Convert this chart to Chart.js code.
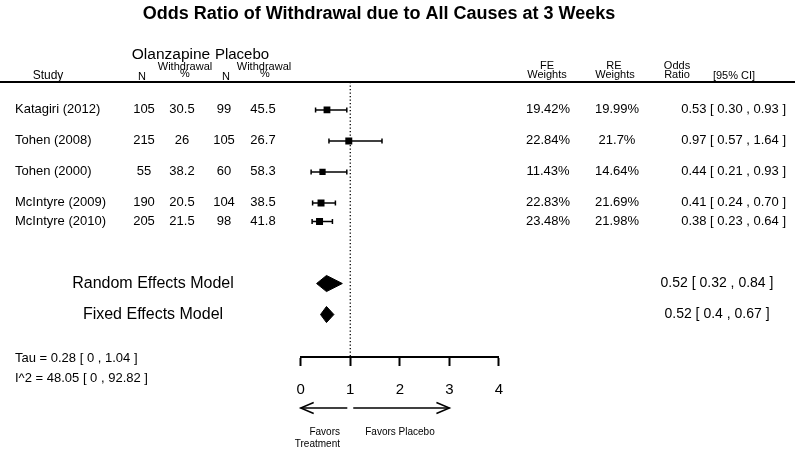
<!DOCTYPE html>
<html><head><meta charset="utf-8">
<script src="https://cdn.jsdelivr.net/npm/chart.js@4"></script>
<style>html,body{margin:0;padding:0;background:#fff;}canvas{display:block;}</style>
</head><body>
<canvas id="c" width="800" height="454"></canvas>
<script>
// ---- data ----
const studies = ['Katagiri (2012)','Tohen (2008)','Tohen (2000)','McIntyre (2009)','McIntyre (2010)'];
const olzN = [105,215,55,190,205];
const olzPct = ['30.5','26','38.2','20.5','21.5'];
const plcN = [99,105,60,104,98];
const plcPct = ['45.5','26.7','58.3','38.5','41.8'];
const feWeights = [19.42,22.84,11.43,22.83,23.48];
const reWeights = [19.99,21.7,14.64,21.69,21.98];
const orEst = [0.53,0.97,0.44,0.41,0.38];
const orLo = [0.30,0.57,0.21,0.24,0.23];
const orHi = [0.93,1.64,0.93,0.70,0.64];
const summaryLabels = ['Random Effects Model','Fixed Effects Model'];
const summaryEst = [0.52,0.52];
const summaryLo = [0.32,0.4];
const summaryHi = [0.84,0.67];
const xTicks = [0,1,2,3,4];
const tauText = 'Tau = 0.28 [ 0 , 1.04 ]';
const i2Text = 'I^2 = 48.05 [ 0 , 92.82 ]';
const titleText = 'Odds Ratio of Withdrawal due to All Causes at 3 Weeks';

// ---- layout (row slots in line units) ----
const rowSlot = [0.9,1.9,2.9,3.9,4.5];
const summarySlot = [6.5,7.5];
const yMax = 8.87;
const diamondHalf = 0.26;
const FONT = "'Liberation Sans', Arial, sans-serif";

const datasets = [];
// reference line at OR = 1
datasets.push({type:'line', data:[{x:1,y:0},{x:1,y:yMax}], borderColor:'#000', borderWidth:1.3,
  borderDash:[1.3,2.2], pointRadius:0, fill:false});
// confidence intervals
studies.forEach((s,i)=>{
  datasets.push({type:'line', data:[{x:orLo[i],y:rowSlot[i]},{x:orHi[i],y:rowSlot[i]}],
    borderColor:'#000', borderWidth:1.5, pointStyle:'line', rotation:90, pointRadius:2.5,
    pointBorderWidth:1.5, pointBorderColor:'#000', fill:false});
});
// study boxes
datasets.push({type:'scatter', data: studies.map((s,i)=>({x:orEst[i], y:rowSlot[i]})),
  pointStyle:'rect', pointRadius: reWeights.map(w => (4.8 + 0.1*w)/Math.SQRT2),
  backgroundColor:'#000', borderColor:'#000', borderWidth:0});
// summary diamonds
summaryLabels.forEach((s,i)=>{
  const r = summarySlot[i];
  datasets.push({type:'line', data:[
    {x:summaryLo[i],y:r},{x:summaryEst[i],y:r-diamondHalf},{x:summaryHi[i],y:r},
    {x:summaryEst[i],y:r+diamondHalf},{x:summaryLo[i],y:r}],
    borderColor:'#000', backgroundColor:'#000', borderWidth:1, pointRadius:0, fill:'shape', tension:0});
});

const textPlugin = {
  id:'forestText',
  afterDraw(chart){
    const ctx = chart.ctx, xs = chart.scales.x, ys = chart.scales.y;
    ctx.save();
    ctx.fillStyle = '#000'; ctx.strokeStyle = '#000';
    const txt = (t,x,y,size,align,bold)=>{
      ctx.font = (bold?'bold ':'') + size + 'px ' + FONT;
      ctx.textAlign = align; ctx.textBaseline = 'middle';
      ctx.fillText(t,x,y);
    };
    // title
    txt(titleText, 379, 14, 18, 'center', true);
    // header
    txt('Olanzapine', 171, 55, 15.5, 'center');
    txt('Placebo', 242, 55, 15, 'center');
    txt('Study', 48, 76, 12, 'center');
    txt('N', 142, 77, 11, 'center');
    txt('Withdrawal', 185, 67, 11, 'center');
    txt('%', 185, 74, 11, 'center');
    txt('N', 226, 77, 11, 'center');
    txt('Withdrawal', 264, 67, 11, 'center');
    txt('%', 265, 74, 11, 'center');
    txt('FE', 547, 66, 11, 'center');
    txt('Weights', 547, 75, 11, 'center');
    txt('RE', 614, 66, 11, 'center');
    txt('Weights', 615, 75, 11, 'center');
    txt('Odds', 677, 66, 11, 'center');
    txt('Ratio', 677, 75, 11, 'center');
    txt('[95% CI]', 734, 76, 11, 'center');
    // header rule
    const y0 = ys.getPixelForValue(0);
    ctx.lineWidth = 2;
    ctx.beginPath(); ctx.moveTo(0,y0); ctx.lineTo(795,y0); ctx.stroke();
    // study rows
    studies.forEach((s,i)=>{
      const y = ys.getPixelForValue(rowSlot[i]);
      txt(s, 15, y, 13, 'left');
      txt(String(olzN[i]), 144, y, 13, 'center');
      txt(olzPct[i], 182, y, 13, 'center');
      txt(String(plcN[i]), 224, y, 13, 'center');
      txt(plcPct[i], 263, y, 13, 'center');
      txt(feWeights[i]+'%', 548, y, 13, 'center');
      txt(reWeights[i]+'%', 617, y, 13, 'center');
      txt(orEst[i].toFixed(2)+' [ '+orLo[i].toFixed(2)+' , '+orHi[i].toFixed(2)+' ]', 786, y, 13, 'right');
    });
    // summaries
    summaryLabels.forEach((s,i)=>{
      const y = ys.getPixelForValue(summarySlot[i]);
      txt(s, 153, y, 16, 'center');
      txt(summaryEst[i]+' [ '+summaryLo[i]+' , '+summaryHi[i]+' ]', 717, y, 14, 'center');
    });
    // heterogeneity
    txt(tauText, 15, 358, 13, 'left');
    txt(i2Text, 15, 378, 13, 'left');
    // arrows
    const ay = 408;
    ctx.lineWidth = 1.5;
    const arrow = (from, to)=>{
      const a = xs.getPixelForValue(from), b = xs.getPixelForValue(to);
      const dir = Math.sign(b-a);
      ctx.beginPath(); ctx.moveTo(a,ay); ctx.lineTo(b,ay); ctx.stroke();
      ctx.beginPath(); ctx.moveTo(b-dir*13, ay-5.5); ctx.lineTo(b,ay); ctx.lineTo(b-dir*13, ay+5.5); ctx.stroke();
    };
    arrow(0.94, 0);
    arrow(1.06, 3);
    txt('Favors', 340, 432, 10, 'right');
    txt('Treatment', 340, 444, 10, 'right');
    txt('Favors Placebo', 400, 432, 10, 'center');
    ctx.restore();
  }
};

new Chart(document.getElementById('c'), {
  type:'scatter',
  data:{datasets},
  options:{
    responsive:false, animation:false, devicePixelRatio:1,
    layout:{padding:{left:300.7, right:301, top:82, bottom:0}},
    plugins:{legend:{display:false}, tooltip:{enabled:false}, title:{display:false}},
    scales:{
      x:{type:'linear', min:0, max:4, position:'bottom',
        afterFit: s => { s.height = 97; },
        afterBuildTicks: s => { s.ticks = xTicks.map(v=>({value:v})); },
        ticks:{stepSize:1, color:'#000', font:{family:FONT, size:15}, padding:15, maxRotation:0},
        grid:{drawOnChartArea:false, drawTicks:true, tickLength:9, tickWidth:2, tickColor:'#000', color:'#000'},
        border:{display:true, color:'#000', width:2}},
      y:{type:'linear', min:0, max:yMax, reverse:true, display:false}
    }
  },
  plugins:[textPlugin]
});
</script>
</body></html>
